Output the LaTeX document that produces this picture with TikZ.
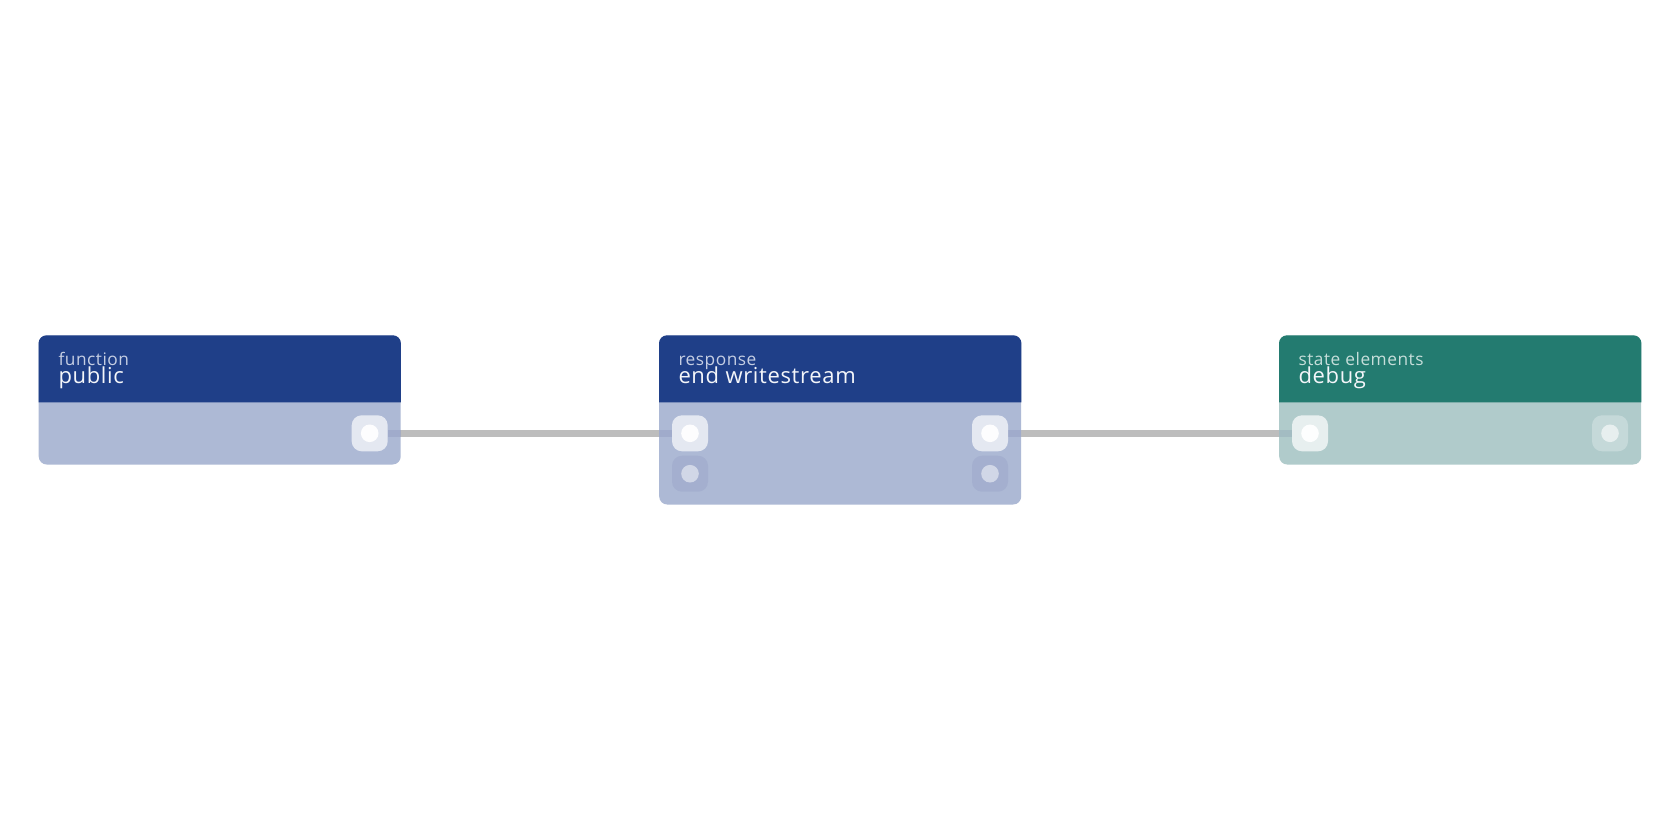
\documentclass[tikz,border=0pt]{standalone}
\usepackage{fontspec}
\setmainfont[LetterSpace=3]{Open Sans}
\definecolor{hdrblue}{HTML}{1F3F88}
\definecolor{bodyblue}{HTML}{ADB9D5}
\definecolor{hdrteal}{HTML}{237B70}
\definecolor{bodyteal}{HTML}{B0CBCB}
\definecolor{edgegray}{HTML}{BDBDBD}
\definecolor{subblue}{HTML}{C5CEE3}
\definecolor{subteal}{HTML}{C6DEDA}
\definecolor{ttlcol}{HTML}{F4F6FA}
\tikzset{
  card/.style={anchor=north west, inner sep=0pt, rounded corners=8pt, minimum width=362pt},
  sub/.style={anchor=base west, inner sep=0pt, font=\fontsize{17.3}{19}\selectfont},
  ttl/.style={anchor=base west, inner sep=0pt, text=ttlcol, font=\fontsize{22}{24}\selectfont},
  port/.style={inner sep=0pt, minimum size=36pt, rounded corners=10pt, fill=white, fill opacity=0.68},
  portdim/.style={inner sep=0pt, minimum size=36pt, rounded corners=10pt, fill=black!60!blue, fill opacity=0.05},
  portteal/.style={inner sep=0pt, minimum size=36pt, rounded corners=10pt, fill=white, fill opacity=0.28},
  dot/.style={circle, inner sep=0pt, minimum size=17.6pt, fill=white, fill opacity=0.95},
  dotdim/.style={circle, inner sep=0pt, minimum size=17.6pt, fill=white, fill opacity=0.5},
  dotteal/.style={circle, inner sep=0pt, minimum size=17.6pt, fill=white, fill opacity=0.6},
  edge/.style={draw=edgegray, line width=7.5pt},
  edgein/.style={draw=black!70!blue, draw opacity=0.07, line width=7.5pt},
}
\begin{document}
\begin{tikzpicture}[x=1pt,y=-1pt]
\useasboundingbox[fill=white] (0,0) rectangle (1680,840);
% edges under the cards
\coordinate (c1) at (369.7,433.3);
\coordinate (c2) at (690,433.3);
\coordinate (c3) at (990,433.3);
\coordinate (c4) at (1310,433.3);
\draw[edge] (c1) -- (c2);
\draw[edge] (c3) -- (c4);
% cards
\node[card, fill=bodyblue, minimum height=129pt] (public) at (38.5,335.3) {};
\fill[hdrblue] (public.north west) ++(0,67) {[rounded corners=8pt] -- (public.north west) -- (public.north east)} -- ++(0,67) -- cycle;
\node[card, fill=bodyblue, minimum height=169pt] (endws) at (659,335.3) {};
\fill[hdrblue] (endws.north west) ++(0,67) {[rounded corners=8pt] -- (endws.north west) -- (endws.north east)} -- ++(0,67) -- cycle;
\node[card, fill=bodyteal, minimum height=129pt] (debug) at (1279,335.3) {};
\fill[hdrteal] (debug.north west) ++(0,67) {[rounded corners=8pt] -- (debug.north west) -- (debug.north east)} -- ++(0,67) -- cycle;
% texts
\node[sub, text=subblue] (publicsub) at (58.3,365.8) {function};
\node[ttl] (publicttl) at (58.3,383.3) {public};
\node[sub, text=subblue] (endwssub) at (678.3,365.8) {response};
\node[ttl] (endwsttl) at (678.3,383.3) {end writestream};
\node[sub, text=subteal] (debugsub) at (1298.3,365.8) {state elements};
\node[ttl] (debugttl) at (1298.3,383.3) {debug};
% ports
\node[port] (p1o) at (c1) {};
\node[dot] (d1o) at (p1o) {};
\node[port] (p2i) at (c2) {};
\node[dot] (d2i) at (p2i) {};
\node[port] (p2o) at (c3) {};
\node[dot] (d2o) at (p2o) {};
\node[portdim] (p2i2) at (690,473.7) {};
\node[dotdim] (d2i2) at (p2i2) {};
\node[portdim] (p2o2) at (990,473.7) {};
\node[dotdim] (d2o2) at (p2o2) {};
\node[port, fill opacity=0.7] (p3i) at (c4) {};
\node[dot] (d3i) at (p3i) {};
\node[portteal] (p3o) at (1610,433.3) {};
\node[dotteal] (d3o) at (p3o) {};
% faint edge parts inside cards
\draw[edgein] (p1o.east) -- (public.east |- p1o.east);
\draw[edgein] (endws.west |- p2i.west) -- (p2i.west);
\draw[edgein] (p2o.east) -- (endws.east |- p2o.east);
\draw[edgein] (debug.west |- p3i.west) -- (p3i.west);
\end{tikzpicture}
\end{document}
